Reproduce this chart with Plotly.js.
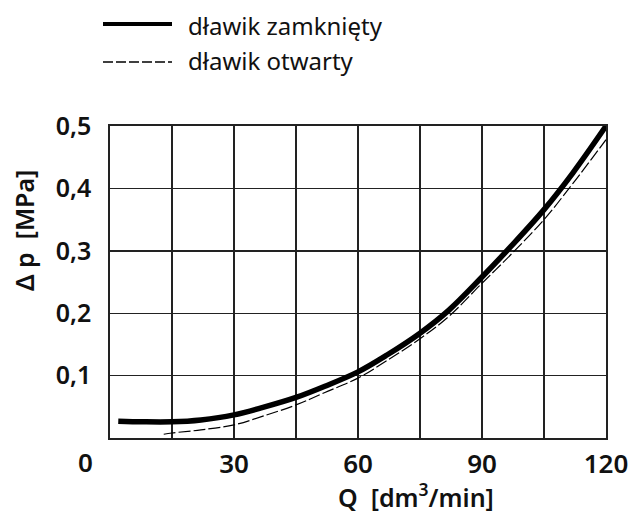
<!DOCTYPE html>
<html>
<head>
<meta charset="utf-8">
<script src="https://cdn.plot.ly/plotly-3.0.1.min.js"></script>
<style>html,body{margin:0;padding:0;background:#fff;}#chart{width:639px;height:514px;}</style>
</head>
<body>
<div id="chart"></div>
<script>
// Data
const qClosed  = [2, 8, 15, 22, 30, 37, 45, 52, 60, 67, 75, 82, 90, 97, 105, 112, 120];
const dpClosed = [0.027, 0.026, 0.026, 0.029, 0.037, 0.049, 0.065, 0.083, 0.106, 0.133, 0.168, 0.205, 0.258, 0.307, 0.366, 0.425, 0.500];
const qOpen    = [13, 15, 22, 30, 37, 45, 52, 60, 67, 75, 82, 90, 97, 105, 112, 120];
const dpOpen   = [0.006, 0.008, 0.013, 0.021, 0.035, 0.053, 0.073, 0.096, 0.124, 0.159, 0.195, 0.248, 0.294, 0.350, 0.408, 0.478];

const xTickVals = [0, 15, 30, 45, 60, 75, 90, 105, 120];
const xTickText = ['', '', '30', '', '60', '', '90', '', '120'];
const yTickVals = [0.1, 0.2, 0.3, 0.4, 0.5];
const yTickText = ['0,1', '0,2', '0,3', '0,4', '0,5'];

const seriesNames = ['dławik zamknięty', 'dławik otwarty'];
const xTitle = 'Q  [dm<sup>3</sup>/min]';
const yTitle = 'Δ p  [MPa]';
const originLabel = '0';

const FONT = '"Noto Sans", "Open Sans", sans-serif';
const INK = '#111';

const traces = [
  {x: qClosed, y: dpClosed, name: seriesNames[0], mode: 'lines', type: 'scatter',
   line: {color: '#000', width: 5.5, shape: 'spline', smoothing: 1}, showlegend: false, cliponaxis: false},
  {x: qOpen, y: dpOpen, name: seriesNames[1], mode: 'lines', type: 'scatter',
   line: {color: '#000', width: 1.2, dash: '12px,3px', shape: 'spline', smoothing: 1}, showlegend: false, cliponaxis: false}
];

const W = 496, H = 312;
const px = v => (v - 110) / W;
const py = v => (438 - v) / H;

const layout = {
  width: 639, height: 514,
  margin: {l: 110, r: 33, t: 126, b: 76},
  paper_bgcolor: '#fff', plot_bgcolor: '#fff',
  font: {family: FONT, color: INK},
  xaxis: {
    range: [0, 120], tickvals: xTickVals, ticktext: xTickText,
    showgrid: true, gridcolor: '#222', gridwidth: 1.4,
    showline: true, linecolor: '#222', linewidth: 1.6, mirror: true,
    zeroline: false, ticks: '', ticklabelstandoff: 2,
    tickfont: {size: 26, family: FONT, weight: 600, color: INK}
  },
  yaxis: {
    range: [0, 0.5], tickvals: yTickVals, ticktext: yTickText,
    showgrid: true, gridcolor: '#222', gridwidth: 1.4,
    showline: true, linecolor: '#222', linewidth: 1.6, mirror: true,
    zeroline: false, ticks: '', ticklabelstandoff: 12,
    tickfont: {size: 25, family: FONT, weight: 600, color: INK}
  },
  shapes: [
    {type: 'line', xref: 'paper', yref: 'paper', x0: px(103), x1: px(172), y0: py(24), y1: py(24),
     line: {color: '#000', width: 4}},
    {type: 'line', xref: 'paper', yref: 'paper', x0: px(103), x1: px(172), y0: py(62), y1: py(62),
     line: {color: '#000', width: 1.3, dash: '10px,3px'}}
  ],
  annotations: [
    {text: seriesNames[0], xref: 'paper', yref: 'paper', x: px(186), y: py(25), xanchor: 'left', yanchor: 'middle',
     showarrow: false, font: {size: 24, family: FONT, color: INK}},
    {text: seriesNames[1], xref: 'paper', yref: 'paper', x: px(186), y: py(60), xanchor: 'left', yanchor: 'middle',
     showarrow: false, font: {size: 24, family: FONT, color: INK}},
    {text: originLabel, xref: 'paper', yref: 'paper', x: px(85), y: py(462), xanchor: 'center', yanchor: 'middle',
     showarrow: false, font: {size: 26, family: FONT, weight: 600, color: INK}},
    {text: xTitle, xref: 'paper', yref: 'paper', x: px(416), y: py(495), xanchor: 'center', yanchor: 'middle',
     showarrow: false, font: {size: 25, family: FONT, weight: 600, color: INK}},
    {text: yTitle, xref: 'paper', yref: 'paper', x: px(24), y: py(231), xanchor: 'center', yanchor: 'middle',
     textangle: -90, showarrow: false, font: {size: 25, family: FONT, weight: 600, color: INK}}
  ]
};

Plotly.newPlot('chart', traces, layout, {staticPlot: true, displayModeBar: false});
</script>
</body>
</html>
